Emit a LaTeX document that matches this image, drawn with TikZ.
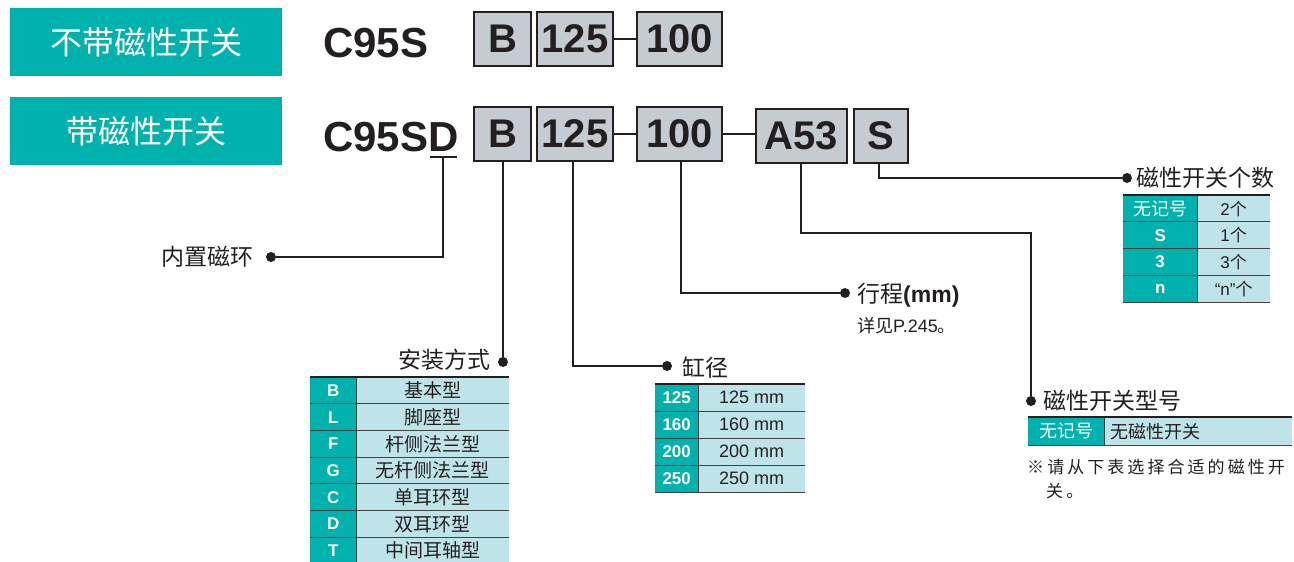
\documentclass[tikz,border=0pt]{standalone}
\usepackage{fontspec}
\setmainfont{Liberation Sans}
\newfontfamily\cjk{Noto Sans CJK SC}
\newfontfamily\cjksp{Noto Sans CJK SC}[LetterSpace=18]
\definecolor{teal1}{HTML}{00B2AD}
\definecolor{cyan1}{HTML}{BEE4EA}
\definecolor{greybox}{HTML}{C5CBD0}
\definecolor{ink}{HTML}{231F20}
\begin{document}
\begin{tikzpicture}[x=1pt,y=-1pt,
  hdr/.style={fill=teal1, text=white, minimum width=272pt, minimum height=68pt, inner sep=0pt, font=\cjk\fontsize{32}{32}\selectfont},
  code/.style={font=\bfseries\fontsize{42}{42}\selectfont, inner sep=0pt, text=ink},
  gbox/.style={fill=greybox, draw=ink, line width=1.5pt, minimum height=54pt, inner sep=0pt, font=\bfseries\fontsize{40}{40}\selectfont, text=ink},
  conn/.style={draw=ink, line width=1.8pt},
  dash2/.style={draw=ink, line width=2.5pt},
  dot/.style={circle, fill=ink, inner sep=0pt, minimum size=10pt},
  lbl/.style={font=\cjk\fontsize{23}{23}\selectfont, inner sep=0pt, text=ink},
  tkey/.style={fill=teal1, text=white, font=\bfseries\fontsize{17}{17}\selectfont, inner sep=0pt, anchor=north west},
  tval/.style={fill=cyan1, text=ink, font=\fontsize{18}{18}\selectfont, inner sep=0pt, anchor=north west},
  rowline/.style={draw=ink!85, line width=1pt},
  topline/.style={draw=ink, line width=2.4pt},
  small/.style={font=\fontsize{18}{18}\selectfont, inner sep=0pt, text=ink}
]
\useasboundingbox[fill=white] (0,0) rectangle (1294,562);

% headers
\node[hdr, anchor=north west] (h1) at (10,8) {不带磁性开关};
\node[hdr, anchor=north west] (h2) at (10,97) {带磁性开关};

% row 1
\node[code, anchor=base west] (c1) at (323,57) {C95S};
\node[gbox, minimum width=57pt] (b1) at (502.5,39) {B};
\node[gbox, minimum width=76pt] (d1) at (575,39) {125};
\node[gbox, minimum width=85pt] (s1) at (679.5,39) {100};
\draw[dash2] (d1.east) -- (s1.west);

% row 2
\node[code, anchor=base west] (c2) at (323,151) {C95SD};
\node[gbox, minimum width=57pt] (b2) at (502.5,134) {B};
\node[gbox, minimum width=76pt] (d2) at (575,134) {125};
\node[gbox, minimum width=85pt] (s2) at (679.5,134) {100};
\node[gbox, minimum width=91pt] (a2) at (801.5,136) {A53};
\node[gbox, minimum width=54pt] (n2) at (881,136) {S};
\draw[dash2] (d2.east) -- (s2.west);
\draw[dash2] (s2.east) -- (a2.west |- s2.east);

% dots and labels
\node[dot] (p0) at (271,257) {};
\node[lbl, anchor=east] (l0) at (254,257) {内置磁环};
\coordinate (u1) at (430,157);
\coordinate (u2) at (457,157);
\coordinate (u0) at (443,157);
\draw[conn] (u1) -- (u2);
\draw[conn] (u0) |- (p0);

\node[dot] (p1) at (503,362) {};
\node[lbl, anchor=east] (l1) at (491,360) {安装方式};
\draw[conn] (b2.south -| p1) -- (p1);

\node[dot] (p2) at (667,366) {};
\node[lbl, anchor=west] (l2) at (682,368) {缸径};
\draw[conn] (573,161) |- (p2);

\node[dot] (p3) at (845,293) {};
\node[lbl, anchor=west] (l3) at (857,295) {行程{\fontspec{Liberation Sans}\bfseries(mm)}};
\node[small, anchor=west] (l3b) at (857,326) {{\cjk 详见}P.245{\cjk 。}};
\draw[conn] (681,161) |- (p3);

\node[dot] (p4) at (1031,401) {};
\node[lbl, anchor=west] (l4) at (1043,401) {磁性开关型号};
\coordinate (k4) at (1031,233);
\draw[conn] (801,163) |- (k4) -- (p4);

\node[dot] (p5) at (1127,178) {};
\node[lbl, anchor=west] (l5) at (1136,178) {磁性开关个数};
\draw[conn] (879,163) |- (p5);

% table: mounting
\foreach \k/\v [count=\i from 0] in {B/基本型, L/脚座型, F/杆侧法兰型, G/无杆侧法兰型, C/单耳环型, D/双耳环型, T/中间耳轴型} {
  \node[tkey, minimum width=46pt, minimum height=26.7pt] (mk\i) at (310,{377+\i*26.7}) {\k};
  \node[tval, minimum width=153pt, minimum height=26.7pt, font=\cjk\fontsize{19}{19}\selectfont] (mv\i) at (356,{377+\i*26.7}) {\v};
}
\foreach \i in {1,...,7} {\draw[rowline] (310,{377+\i*26.7}) -- (509,{377+\i*26.7});}
\draw[rowline] (356,377) -- (356,564);
\draw[topline] (310,377) -- (509,377);

% table: bore
\foreach \k [count=\i from 0] in {125,160,200,250} {
  \node[tkey, minimum width=43pt, minimum height=27pt] (bk\i) at (655,{384+\i*27}) {\k};
  \node[tval, minimum width=107pt, minimum height=27pt] (bv\i) at (698,{384+\i*27}) {\k\ mm};
}
\foreach \i in {1,...,4} {\draw[rowline] (655,{384+\i*27}) -- (805,{384+\i*27});}
\draw[rowline] (698,384) -- (698,492);
\draw[topline] (655,384) -- (805,384);

% table: switch count
\node[tkey, minimum width=74pt, minimum height=26.75pt, font=\cjk\fontsize{18}{18}\selectfont] (ck0) at (1123,195) {无记号};
\node[tval, minimum width=73pt, minimum height=26.75pt, font=\fontsize{17}{17}\selectfont] (cv0) at (1197,195) {2{\cjk 个}};
\node[tkey, minimum width=74pt, minimum height=26.75pt] (ck1) at (1123,221.75) {S};
\node[tval, minimum width=73pt, minimum height=26.75pt, font=\fontsize{17}{17}\selectfont] (cv1) at (1197,221.75) {1{\cjk 个}};
\node[tkey, minimum width=74pt, minimum height=26.75pt] (ck2) at (1123,248.5) {3};
\node[tval, minimum width=73pt, minimum height=26.75pt, font=\fontsize{17}{17}\selectfont] (cv2) at (1197,248.5) {3{\cjk 个}};
\node[tkey, minimum width=74pt, minimum height=26.75pt] (ck3) at (1123,275.25) {n};
\node[tval, minimum width=73pt, minimum height=26.75pt, font=\fontsize{17}{17}\selectfont] (cv3) at (1197,275.25) {“n”{\cjk 个}};
\foreach \y in {221.75,248.5,275.25,302} {\draw[rowline] (1123,\y) -- (1270,\y);}
\draw[rowline] (1197,195) -- (1197,302);
\draw[topline] (1123,195) -- (1270,195);

% table: switch type
\node[tkey, minimum width=76pt, minimum height=28pt, font=\cjk\fontsize{18}{18}\selectfont] (tk0) at (1028,417) {无记号};
\node[tval, minimum width=188pt, minimum height=28pt, font=\cjk\fontsize{18}{18}\selectfont, text width=176pt, align=left] (tv0) at (1104,417) {无磁性开关};
\draw[rowline] (1028,445) -- (1292,445);
\draw[rowline] (1104,417) -- (1104,445);
\draw[topline] (1028,417) -- (1292,417);

\node[font=\cjksp\fontsize{17}{17}\selectfont, inner sep=0pt, text=ink, anchor=west] (nt1) at (1027,467) {※请从下表选择合适的磁性开};
\node[font=\cjksp\fontsize{17}{17}\selectfont, inner sep=0pt, text=ink, anchor=west] (nt2) at (1046,491) {关。};
\end{tikzpicture}
\end{document}
